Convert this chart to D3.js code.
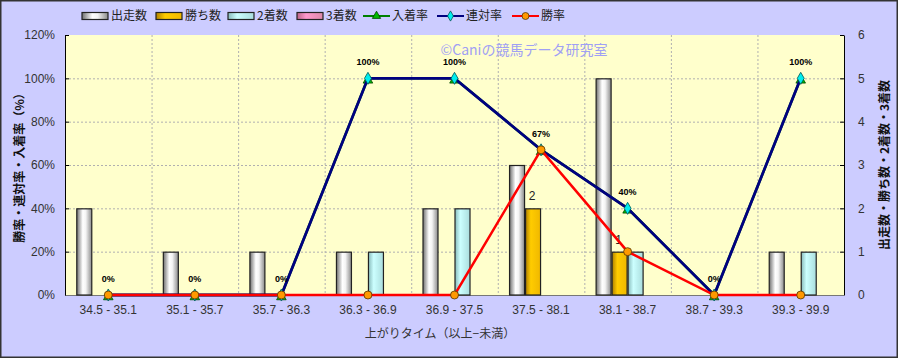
<!DOCTYPE html>
<html><head><meta charset="utf-8">
<script src="https://cdn.jsdelivr.net/npm/d3@7"></script>
<style>
html,body{margin:0;padding:0;background:#fff;}
svg{display:block;}
text{font-family:"Liberation Sans","Noto Sans CJK JP",Arial,sans-serif;}
.jp{font-family:"Noto Sans CJK JP","Liberation Sans",sans-serif;}
</style></head>
<body>
<svg id="chart" width="898" height="358"></svg>
<script>
const categories = ["34.5 - 35.1","35.1 - 35.7","35.7 - 36.3","36.3 - 36.9","36.9 - 37.5","37.5 - 38.1","38.1 - 38.7","38.7 - 39.3","39.3 - 39.9"];
const runs    = [2,1,1,1,2,3,5,0,1];   // 出走数
const wins    = [0,0,0,0,0,2,1,0,0];   // 勝ち数
const seconds = [0,0,0,1,2,0,1,0,1];   // 2着数
const thirds  = [0,0,0,0,0,0,0,0,0];   // 3着数
const placeRate = [0,0,0,100,100,67,40,0,100]; // 入着率
const rentaiRate = [0,0,0,100,100,67,40,0,100]; // 連対率
const winRate = [0,0,0,0,0,67,20,0,0]; // 勝率
const leftTicks = [0,20,40,60,80,100,120];
const rightTicks = [0,1,2,3,4,5,6];

const W = 898, H = 358;
const L = 65, R = 844, T = 35, B = 295;
const svg = d3.select("#chart");
const defs = svg.append("defs");

function grad(id, stops){
  const g = defs.append("linearGradient").attr("id",id).attr("x1","0%").attr("x2","100%").attr("y1","0%").attr("y2","0%");
  stops.forEach(s=>g.append("stop").attr("offset",s[0]).attr("stop-color",s[1]));
}
grad("gRun",[["0%","#707070"],["40%","#ffffff"],["60%","#f4f4f4"],["100%","#8a8a8a"]]);
grad("gWin",[["0%","#b08000"],["35%","#ffcc00"],["100%","#f0b800"]]);
grad("gSec",[["0%","#88bbbb"],["35%","#ccffff"],["100%","#aadddd"]]);
grad("gThi",[["0%","#bb6688"],["35%","#ff99cc"],["100%","#dd88aa"]]);

// background
svg.append("rect").attr("x",0.5).attr("y",0.5).attr("width",W-1).attr("height",H-1)
  .attr("fill","#ccccff").attr("stroke","#333").attr("stroke-width",2);
svg.append("rect").attr("x",L).attr("y",T).attr("width",R-L).attr("height",B-T).attr("fill","#ffffcc");

const x = d3.scaleBand().domain(categories).range([L,R]);
const yL = d3.scaleLinear().domain([0,120]).range([B,T]);
const yR = d3.scaleLinear().domain([0,6]).range([B,T]);

// grid
const g = svg.append("g");
g.selectAll(".hg").data(leftTicks.filter(d=>d>0&&d<120)).join("line")
  .attr("x1",L).attr("x2",R).attr("y1",d=>yL(d)+0.5).attr("y2",d=>yL(d)+0.5)
  .attr("stroke","#b0b0b0").attr("stroke-dasharray","2,2");
g.selectAll(".vg").data(categories.slice(1)).join("line")
  .attr("x1",d=>x(d)+0.5).attr("x2",d=>x(d)+0.5).attr("y1",T).attr("y2",B)
  .attr("stroke","#b0b0b0").attr("stroke-dasharray","2,2");

// axes
const axL = d3.axisLeft(yL).tickValues(leftTicks).tickFormat(d=>d+"%").tickSizeInner(-4).tickSizeOuter(0).tickPadding(10);
const gL = svg.append("g").attr("transform",`translate(${L},0)`).call(axL);
gL.select(".domain").attr("stroke","#000");
gL.selectAll("text").attr("fill","#333").style("font-size","12px");
gL.selectAll(".tick line").attr("stroke","#000");

const axR = d3.axisRight(yR).tickValues(rightTicks).tickFormat(d3.format("d")).tickSizeInner(-4).tickSizeOuter(0).tickPadding(14);
const gR = svg.append("g").attr("transform",`translate(${R},0)`).call(axR);
gR.select(".domain").attr("stroke","#000");
gR.selectAll("text").attr("fill","#333").style("font-size","12px");
gR.selectAll(".tick line").attr("stroke","#000");

const axB = d3.axisBottom(x).tickSize(0).tickPadding(10);
const gB = svg.append("g").attr("transform",`translate(0,${B})`).call(axB);
gB.select(".domain").attr("stroke","#777");
gB.selectAll("text").attr("fill","#333").style("font-size","12px");

// bars
const seriesBars = [
  {name:"出走数", vals:runs, fill:"url(#gRun)"},
  {name:"勝ち数", vals:wins, fill:"url(#gWin)"},
  {name:"2着数", vals:seconds, fill:"url(#gSec)"},
  {name:"3着数", vals:thirds, fill:"url(#gThi)"}
];
const xs = d3.scaleBand().domain(seriesBars.map(s=>s.name)).range([0,64]);
const barsG = svg.append("g");
seriesBars.forEach(s=>{
  barsG.selectAll(null).data(categories.map((c,i)=>({c,v:s.vals[i]})).filter(d=>d.v>0)).join("rect")
    .attr("x",d=>x(d.c)+x.bandwidth()/2-32+xs(s.name)+0.5)
    .attr("width",xs.bandwidth()-1)
    .attr("y",d=>yR(d.v)+0.5)
    .attr("height",d=>yR(0)-yR(d.v)-0.5)
    .attr("fill",s.fill).attr("stroke","#222").attr("stroke-width",1.2);
});
// win count labels
barsG.selectAll(null).data(categories.map((c,i)=>({c,v:wins[i]})).filter(d=>d.v>0)).join("text")
  .attr("x",d=>x(d.c)+x.bandwidth()/2-32+xs("勝ち数")+xs.bandwidth()/2-1)
  .attr("y",d=>yR(d.v)-8)
  .attr("text-anchor","middle").attr("fill","#222").style("font-size","12px")
  .text(d=>d.v);

// watermark
svg.append("text").attr("class","jp").attr("x",524).attr("y",55).attr("text-anchor","middle")
  .attr("fill","#a0a0f4").style("font-size","14px").text("©Caniの競馬データ研究室");

const cx = c=>x(c)+x.bandwidth()/2;
const line = d3.line().x(d=>cx(d.c)).y(d=>yL(d.v));
function pts(arr){return categories.map((c,i)=>({c,v:arr[i]}));}

// 入着率
svg.append("path").datum(pts(placeRate)).attr("d",line).attr("fill","none").attr("stroke","#008000").attr("stroke-width",2.5);
svg.append("g").selectAll("path").data(pts(placeRate)).join("path")
  .attr("d",d3.symbol(d3.symbolTriangle,40)).attr("transform",d=>`translate(${cx(d.c)},${yL(d.v)+2})`)
  .attr("fill","#00bb00").attr("stroke","#004400").attr("stroke-width",0.8);
// 連対率
svg.append("path").datum(pts(rentaiRate)).attr("d",line).attr("fill","none").attr("stroke","#000080").attr("stroke-width",2.8);
svg.append("g").selectAll("path").data(pts(rentaiRate)).join("path")
  .attr("d",d3.symbol(d3.symbolDiamond,42)).attr("transform",d=>`translate(${cx(d.c)},${yL(d.v)})`)
  .attr("fill","#00eeee").attr("stroke","#005555").attr("stroke-width",0.8);
// 勝率
svg.append("path").datum(pts(winRate)).attr("d",line).attr("fill","none").attr("stroke","#ff0000").attr("stroke-width",2.5);
svg.append("g").selectAll("circle").data(pts(winRate)).join("circle")
  .attr("cx",d=>cx(d.c)).attr("cy",d=>yL(d.v)).attr("r",4)
  .attr("fill","#ff9900").attr("stroke","#553300").attr("stroke-width",0.8);

// rate labels
svg.append("g").selectAll("text").data(pts(rentaiRate)).join("text")
  .attr("x",d=>cx(d.c)).attr("y",d=>yL(d.v)-13)
  .attr("text-anchor","middle").attr("fill","#000").style("font-size","9px").style("font-weight","bold")
  .text(d=>d.v+"%");

// axis titles
svg.append("text").attr("class","jp").attr("transform",`translate(24,165) rotate(-90)`).attr("text-anchor","middle")
  .attr("fill","#111").style("font-size","12px").style("font-weight","bold").text("勝率・連対率・入着率（%）");
svg.append("text").attr("class","jp").attr("transform",`translate(889,165) rotate(-90)`).attr("text-anchor","middle")
  .attr("fill","#111").style("font-size","12px").style("font-weight","bold").text("出走数・勝ち数・2着数・3着数");
svg.append("text").attr("class","jp").attr("x",440).attr("y",338).attr("text-anchor","middle")
  .attr("fill","#333").style("font-size","12px").text("上がりタイム（以上−未満）");

// legend
const legendItems = [
  {name:"出走数", type:"bar", fill:"url(#gRun)", x:82},
  {name:"勝ち数", type:"bar", fill:"url(#gWin)", x:156},
  {name:"2着数", type:"bar", fill:"url(#gSec)", x:228},
  {name:"3着数", type:"bar", fill:"url(#gThi)", x:297},
  {name:"入着率", type:"line", color:"#008000", marker:"tri", x:363},
  {name:"連対率", type:"line", color:"#000080", marker:"dia", x:437},
  {name:"勝率", type:"line", color:"#ff0000", marker:"circ", x:512}
];
const lg = svg.append("g");
legendItems.forEach(it=>{
  const gi = lg.append("g").attr("transform",`translate(${it.x},16)`);
  if(it.type==="bar"){
    gi.append("rect").attr("x",0).attr("y",-3.5).attr("width",26).attr("height",7)
      .attr("fill",it.fill).attr("stroke","#222").attr("stroke-width",1.2);
  } else {
    gi.append("line").attr("x1",0).attr("x2",27).attr("y1",0).attr("y2",0).attr("stroke",it.color).attr("stroke-width",2);
    if(it.marker==="tri") gi.append("path").attr("d",d3.symbol(d3.symbolTriangle,30)).attr("transform","translate(13.5,0)").attr("fill","#00bb00").attr("stroke","#004400").attr("stroke-width",0.8);
    if(it.marker==="dia") gi.append("path").attr("d",d3.symbol(d3.symbolDiamond,30)).attr("transform","translate(13.5,0)").attr("fill","#00eeee").attr("stroke","#005555").attr("stroke-width",0.8);
    if(it.marker==="circ") gi.append("circle").attr("cx",13.5).attr("cy",0).attr("r",3.5).attr("fill","#ff9900").attr("stroke","#553300").attr("stroke-width",0.8);
  }
  gi.append("text").attr("class","jp").attr("x",29).attr("y",0).attr("dy","0.35em")
    .attr("fill","#222").style("font-size","12px").text(it.name);
});
</script>
</body></html>
